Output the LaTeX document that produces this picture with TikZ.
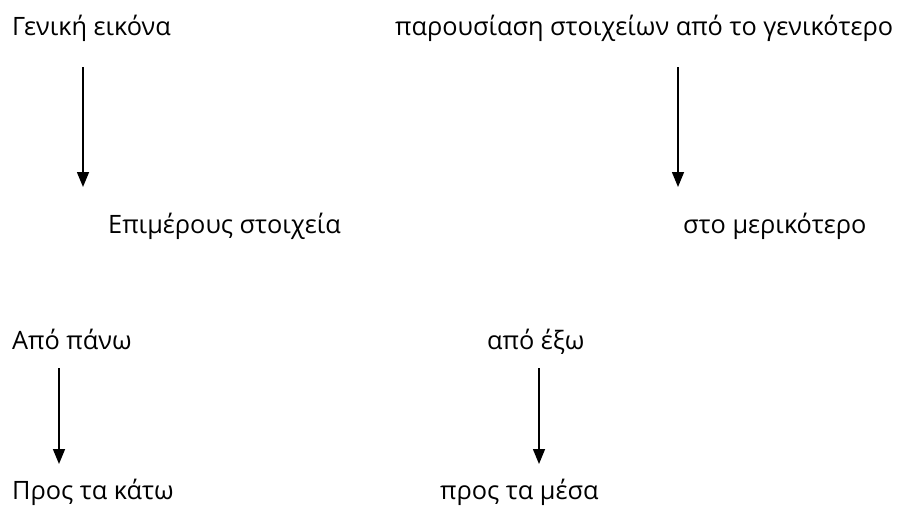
\documentclass[tikz,border=0pt]{standalone}
\usepackage{fontspec}
\setmainfont{Open Sans}
\usetikzlibrary{arrows.meta,positioning}

\begin{document}
\begin{tikzpicture}[x=1pt,y=-1pt,
    txt/.style={anchor=base west, inner sep=0pt, font=\fontsize{25.3}{30}\selectfont},
    arr/.style={line width=1.5pt, -{Triangle[length=15pt,width=12pt]}}]
    \useasboundingbox (0,0) rectangle (912,506);
    % top left pair
    \node[txt] (gen) at (12,35) {Γενική εικόνα};
    \node[txt] (epi) at (108,233) {Επιμέρους στοιχεία};
    % top right pair
    \node[txt] (par) at (395,35) {παρουσίαση στοιχείων από το γενικότερο};
    \node[txt] (mer) at (683,233) {στο μερικότερο};
    % bottom left pair
    \node[txt] (pano) at (12,349) {Από πάνω};
    \node[txt] (kato) at (12,499) {Προς τα κάτω};
    % bottom right pair
    \node[txt] (exo) at (487,349) {από έξω};
    \node[txt] (mesa) at (440,499) {προς τα μέσα};
    % arrow ends
    \coordinate (a1) at (83,67);  \coordinate (b1) at (83,187);
    \coordinate (a2) at (678,67); \coordinate (b2) at (678,187);
    \coordinate (a3) at (59,368); \coordinate (b3) at (59,464);
    \coordinate (a4) at (539,368); \coordinate (b4) at (539,464);
    \draw[arr] (a1) -- (b1);
    \draw[arr] (a2) -- (b2);
    \draw[arr] (a3) -- (b3);
    \draw[arr] (a4) -- (b4);
\end{tikzpicture}
\end{document}
